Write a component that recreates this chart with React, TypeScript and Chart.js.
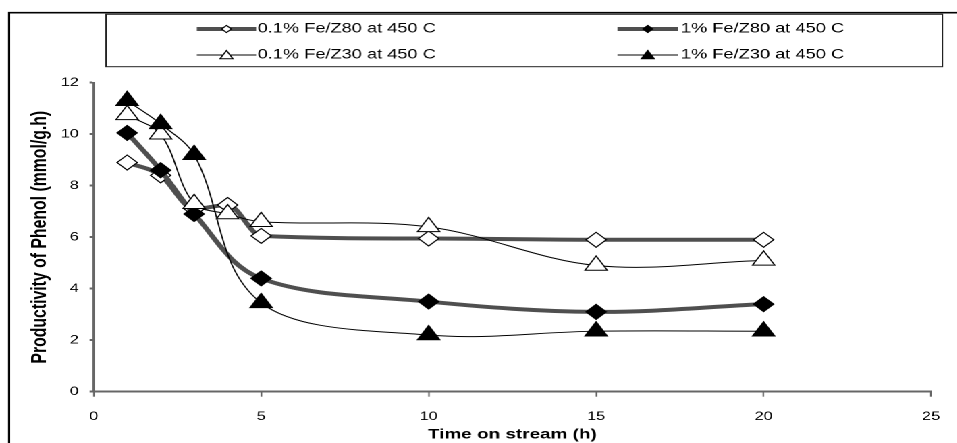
import React, { useEffect, useRef } from 'react';
import { Chart, registerables } from 'chart.js';

Chart.register(...registerables);

// ---- data ----
const SERIES_LABELS = [
  '0.1% Fe/Z80 at 450 C',
  '1% Fe/Z80 at 450 C',
  '0.1% Fe/Z30 at 450 C',
  '1% Fe/Z30 at 450 C',
];
const X_FE01_Z80 = [1, 2, 3, 4, 5, 10, 15, 20];
const Y_FE01_Z80 = [8.9, 8.4, 7.1, 7.25, 6.05, 5.95, 5.9, 5.9];
const X_FE1_Z80 = [1, 2, 3, 5, 10, 15, 20];
const Y_FE1_Z80 = [10.05, 8.6, 6.9, 4.4, 3.5, 3.1, 3.4];
const X_FE01_Z30 = [1, 2, 3, 4, 5, 10, 15, 20];
const Y_FE01_Z30 = [10.75, 10.0, 7.3, 6.9, 6.6, 6.4, 4.9, 5.1];
const X_FE1_Z30 = [1, 2, 3, 5, 10, 15, 20];
const Y_FE1_Z30 = [11.3, 10.4, 9.2, 3.45, 2.2, 2.35, 2.35];
const X_TITLE = 'Time on stream (h)';
const Y_TITLE = 'Productivity of Phenol (mmol/g.h)';
const X_MIN = 0;
const X_MAX = 25;
const X_STEP = 5;
const Y_MIN = 0;
const Y_MAX = 12;
const Y_STEP = 2;

// ---- layout (internal canvas units; canvas is stretched horizontally) ----
const STRETCH = 1.35;
const OUT_W = 957;
const OUT_H = 443;
const IN_W = OUT_W / STRETCH;
const FONT = "'Liberation Sans', Arial, sans-serif";
const THICK = '#4f4f4f';

const pts = (xs: number[], ys: number[]) => xs.map((x, i) => ({ x, y: ys[i] }));

type Sty = { thick: boolean; shape: 'diamond' | 'triangle'; filled: boolean };
const STYLES: Sty[] = [
  { thick: true, shape: 'diamond', filled: false },
  { thick: true, shape: 'diamond', filled: true },
  { thick: false, shape: 'triangle', filled: false },
  { thick: false, shape: 'triangle', filled: true },
];

function drawMarker(ctx: CanvasRenderingContext2D, s: Sty, x: number, y: number, r: number) {
  ctx.beginPath();
  if (s.shape === 'diamond') {
    ctx.moveTo(x, y - r);
    ctx.lineTo(x + r, y);
    ctx.lineTo(x, y + r);
    ctx.lineTo(x - r, y);
  } else {
    ctx.moveTo(x, y - r);
    ctx.lineTo(x + 0.866 * r, y + 0.5 * r);
    ctx.lineTo(x - 0.866 * r, y + 0.5 * r);
  }
  ctx.closePath();
  ctx.fillStyle = s.filled ? '#000' : '#fff';
  ctx.fill();
  ctx.lineWidth = 1;
  ctx.strokeStyle = '#000';
  ctx.stroke();
}

const frameLegendPlugin = {
  id: 'frameLegend',
  afterDraw(chart: any) {
    const ctx: CanvasRenderingContext2D = chart.ctx;
    ctx.save();
    // outer frame
    ctx.strokeStyle = '#000';
    ctx.lineWidth = 1.6;
    ctx.beginPath();
    ctx.moveTo(6.7, OUT_H + 5);
    ctx.lineTo(6.7, 12.7);
    ctx.lineTo(chart.width + 5, 12.7);
    ctx.stroke();
    // legend box
    ctx.lineWidth = 1;
    ctx.strokeStyle = '#222';
    ctx.strokeRect(78.5, 14.3, 619.1, 52.4);
    // legend items
    const cols = [
      { x0: 145.7, x1: 189.6, tx: 190.6 },
      { x0: 457.0, x1: 502.0, tx: 504.0 },
    ];
    const rows = [29, 55];
    const order = [
      { c: 0, r: 0 },
      { c: 1, r: 0 },
      { c: 0, r: 1 },
      { c: 1, r: 1 },
    ];
    ctx.font = `13.5px ${FONT}`;
    ctx.textBaseline = 'middle';
    ctx.textAlign = 'left';
    SERIES_LABELS.forEach((label, i) => {
      const s = STYLES[i];
      const col = cols[order[i].c];
      const y = rows[order[i].r];
      ctx.beginPath();
      ctx.moveTo(col.x0, y);
      ctx.lineTo(col.x1, y);
      ctx.strokeStyle = s.thick ? THICK : '#000';
      ctx.lineWidth = s.thick ? 4 : 1;
      ctx.stroke();
      drawMarker(ctx, s, (col.x0 + col.x1) / 2, s.shape === 'diamond' ? y : y + 1, s.shape === 'diamond' ? 3.6 : 5.5);
      ctx.fillStyle = '#000';
      ctx.fillText(label, col.tx, y);
    });
    ctx.restore();
  },
};

function mkDataset(i: number, data: { x: number; y: number }[], order: number, monotone = false) {
  const s = STYLES[i];
  return {
    label: SERIES_LABELS[i],
    data,
    order,
    borderColor: s.thick ? THICK : '#000',
    borderWidth: s.thick ? 4 : 1,
    tension: 0.35,
    cubicInterpolationMode: monotone ? 'monotone' : 'default',
    fill: false,
    pointStyle: s.shape === 'diamond' ? 'rectRot' : 'triangle',
    pointRadius: s.shape === 'diamond' ? 7.5 : 9.5,
    pointBackgroundColor: s.filled ? '#000' : '#fff',
    pointBorderColor: '#000',
    pointBorderWidth: 1,
  };
}

export default function App() {
  const ref = useRef<HTMLCanvasElement | null>(null);
  useEffect(() => {
    document.body.style.margin = '0';
    if (!ref.current) return;
    const chart = new Chart(ref.current, {
      type: 'line',
      data: {
        datasets: [
          mkDataset(0, pts(X_FE01_Z80, Y_FE01_Z80), 4, true),
          mkDataset(1, pts(X_FE1_Z80, Y_FE1_Z80), 3),
          mkDataset(2, pts(X_FE01_Z30, Y_FE01_Z30), 2),
          mkDataset(3, pts(X_FE1_Z30, Y_FE1_Z30), 1),
        ] as any,
      },
      options: {
        animation: false,
        responsive: true,
        maintainAspectRatio: false,
        devicePixelRatio: 2,
        layout: { padding: { left: 0, top: 82.7, right: IN_W - 696.8, bottom: 0 } },
        plugins: { legend: { display: false }, tooltip: { enabled: false } },
        scales: {
          x: {
            type: 'linear',
            min: X_MIN,
            max: X_MAX,
            ticks: { stepSize: X_STEP, color: '#000', font: { family: FONT, size: 12 }, padding: 13, maxRotation: 0 },
            grid: { drawOnChartArea: false, drawTicks: true, tickLength: 5, tickColor: '#666', tickWidth: 1.2, color: '#666' },
            border: { display: true, color: '#666', width: 2 },
            title: { display: true, text: X_TITLE, color: '#000', font: { family: FONT, size: 14, weight: 'bold' }, padding: { top: 0, bottom: 0 } },
            afterFit: (s: any) => { s.height = 51.3; },
          },
          y: {
            type: 'linear',
            min: Y_MIN,
            max: Y_MAX,
            ticks: { stepSize: Y_STEP, color: '#000', font: { family: FONT, size: 12 }, padding: 8 },
            grid: { drawOnChartArea: false, drawTicks: true, tickLength: 3, tickColor: '#666', tickWidth: 2, color: '#666' },
            border: { display: true, color: '#666', width: 1.6 },
            title: { display: true, text: Y_TITLE, color: '#000', font: { family: FONT, size: 15.8, weight: 'bold' }, padding: { top: 20.1, bottom: 0 } },
            afterFit: (s: any) => { s.width = 69.3; },
          },
        },
      } as any,
      plugins: [frameLegendPlugin],
    });
    return () => chart.destroy();
  }, []);
  return (
    <div
      style={{
        position: 'absolute',
        left: 0,
        top: 0,
        width: IN_W,
        height: OUT_H,
        transform: `scaleX(${STRETCH})`,
        transformOrigin: '0 0',
        background: '#fff',
      }}
    >
      <canvas ref={ref} />
    </div>
  );
}
